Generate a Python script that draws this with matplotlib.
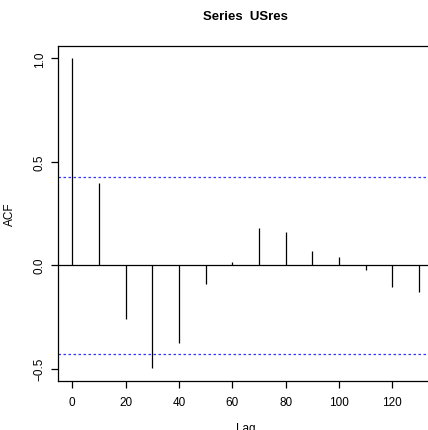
import matplotlib
matplotlib.use("Agg")
import matplotlib.pyplot as plt

# ACF of USres
lags = [0, 10, 20, 30, 40, 50, 60, 70, 80, 90, 100, 110, 120, 130]
acf_vals = [1.0, 0.397, -0.261, -0.498, -0.376, -0.089, 0.014,
            0.182, 0.160, 0.068, 0.042, -0.024, -0.103, -0.127]
ci = 0.428
x_ticks = [0, 20, 40, 60, 80, 100, 120]
y_ticks = [-0.5, 0.0, 0.5, 1.0]

plt.rcParams["font.family"] = ["Liberation Sans", "DejaVu Sans"]

fig = plt.figure(figsize=(4.28, 4.31), dpi=100)
ax = fig.add_axes([0.1364, 0.1144, 0.875, 0.7768])

ax.vlines(lags, 0, acf_vals, color="black", lw=0.9)
ax.axhline(0, color="black", lw=0.9)
ax.axhline(ci, color="#3333ff", lw=0.9, ls=(0, (2, 2)))
ax.axhline(-ci, color="#3333ff", lw=0.9, ls=(0, (2, 2)))

span = lags[-1] - lags[0]
ax.set_xlim(lags[0] - 0.04 * span, lags[-1] + 0.04 * span)
lo, hi = min(acf_vals), max(acf_vals)
ax.set_ylim(lo - 0.04 * (hi - lo), hi + 0.04 * (hi - lo))

ax.set_xticks(x_ticks)
ax.set_yticks(y_ticks)
ax.set_yticklabels([f"{v:.1f}".replace("-", "\u2212") for v in y_ticks],
                   rotation=90, va="center")
ax.tick_params(direction="out", length=5, width=0.9, labelsize=8.5, pad=6)
ax.tick_params(axis="y", pad=4)
for s in ax.spines.values():
    s.set_linewidth(0.9)

ax.set_xlabel("Lag", fontsize=8.5, labelpad=10)
ax.set_ylabel("ACF", fontsize=8.5, labelpad=13)
fig.text(245 / 428, 1 - 17 / 431, "Series  USres", ha="center", va="center",
         fontsize=9.5, fontweight="bold")

fig.savefig("out.png", dpi=100)
